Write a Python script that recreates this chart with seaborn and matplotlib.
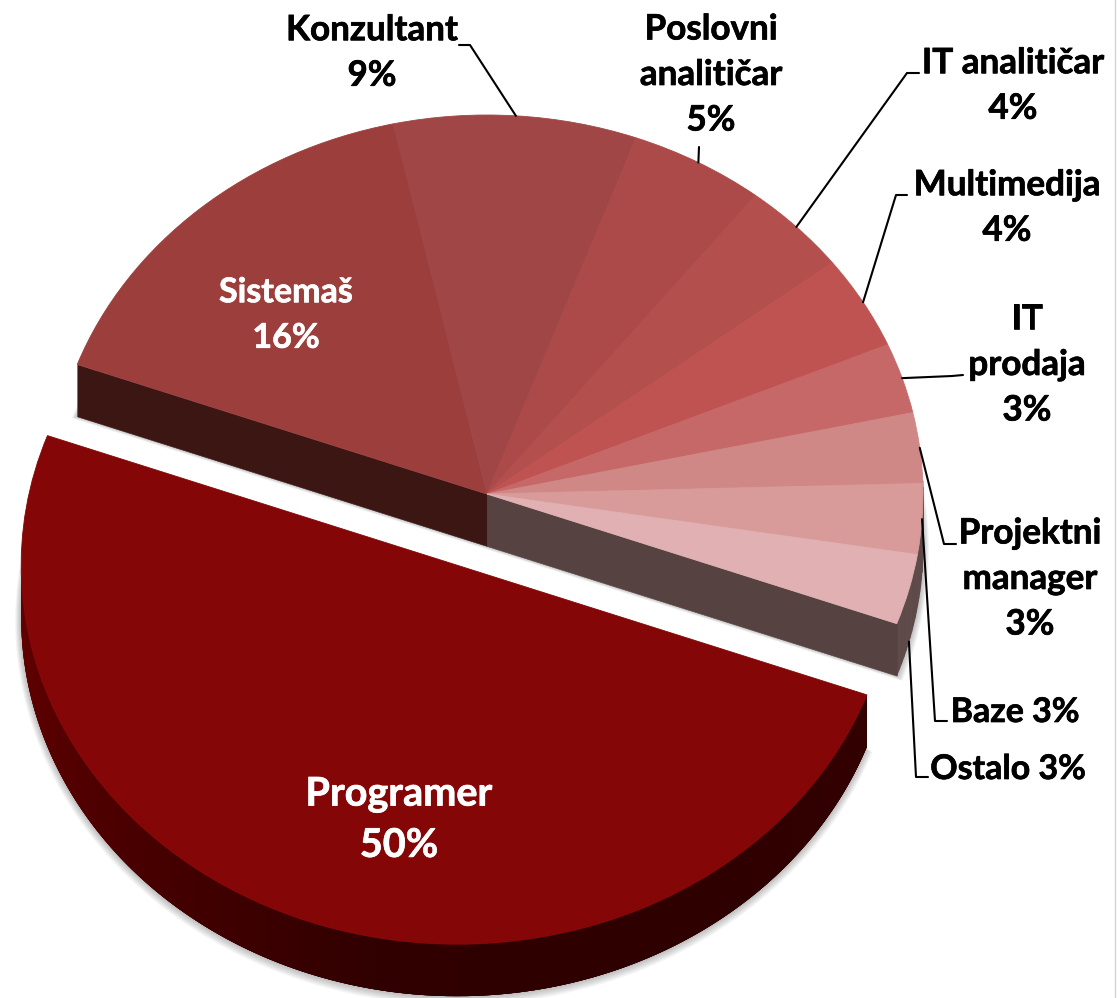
import numpy as np
import matplotlib
matplotlib.use("Agg")
import matplotlib.pyplot as plt
import matplotlib.patheffects as pe
import seaborn as sns
from matplotlib.collections import PolyCollection
from matplotlib.transforms import Affine2D

# datos del grafico
categorias = ["Programer", "Sistemaš", "Konzultant", "Poslovni\nanalitičar", "IT analitičar",
              "Multimedija", "IT\nprodaja", "Projektni\nmanager", "Baze", "Ostalo"]
valores = [50, 16, 9, 5, 4, 4, 3, 3, 3, 3]
colores = ["#840606", "#9b3e3c", "#a04646", "#ab4a49", "#b34f4d",
           "#bf5352", "#c76868", "#cf8886", "#d89b99", "#e0b0b3"]

ANCHO, ALTO = 1118, 998
CX, CY = 487, 494      # centro de la tarta, en pixeles
RX, RY = 436, 379      # radios de la elipse
PROF = 52 / RY         # grosor 3D

sns.set_theme(style="white")
plt.rcParams["font.family"] = ["Lato", "DejaVu Sans"]

fig = plt.figure(figsize=(ANCHO / 100, ALTO / 100), dpi=100, facecolor="white")
ax = fig.add_axes([0, 0, 1, 1])
explode = [0.2] + [0] * (len(valores) - 1)

# sombra difusa
for k in range(1, 7):
    ax.pie(valores, explode=explode, startangle=-20, counterclock=False, center=(0, -PROF - k * 0.6 / RY),
           radius=1 + k / RX, colors=["black"] * len(valores),
           wedgeprops={"alpha": 0.045, "linewidth": 0, "zorder": 0})

# caras superiores
wedges, _ = ax.pie(valores, explode=explode, startangle=-20, counterclock=False, colors=colores,
                   wedgeprops={"linewidth": 0.6, "zorder": 4})
for w, c in zip(wedges, colores):
    w.set_edgecolor(c)


def borde(centro, grados):
    t = np.radians(grados)
    return centro[0] + np.cos(t), centro[1] + np.sin(t)


def banda(centro, angulos, solape=0):
    # cada trozo pisa al siguiente para que no queden rayas entre ellos
    quads = []
    for a, b in zip(angulos[:-1], angulos[1:]):
        p = borde(centro, a)
        q = borde(centro, min(b + solape, angulos[-1]))
        quads.append([p, q, (q[0], q[1] - PROF), (p[0], p[1] - PROF)])
    return quads


# pared exterior del Programer, con degradado
prog = wedges[0]
angs = np.arange(prog.theta1 + 20, prog.theta2 + 0.25, 0.5)
degradado = sns.blend_palette(["#650000", "#4a0000", "#300000", "#2e0000", "#330000"], len(angs) - 1)
ax.add_collection(PolyCollection(banda(prog.center, angs, solape=1.5), facecolors=degradado,
                                 linewidths=0, zorder=2))

# pared exterior del resto
angs = np.arange(prog.theta2, 3, 1.0)
ax.add_collection(PolyCollection(banda((0, 0), angs), facecolors="#5e4a49", edgecolors="#5e4a49",
                                 linewidths=0.6, zorder=2))

# cortes interiores
izq = borde((0, 0), prog.theta1)
der = borde((0, 0), prog.theta2)
for p, color in [(izq, "#3b1613"), (der, "#564240")]:
    cara = [(0, 0), p, (p[0], p[1] - PROF), (0, -PROF)]
    ax.add_collection(PolyCollection([cara], facecolors=color, edgecolors=color, linewidths=0.4, zorder=3))

ax.set_aspect("auto")
ax.set_xlim(-CX / RX, (ANCHO - CX) / RX)
ax.set_ylim((CY - ALTO) / RY, CY / RY)
ax.axis("off")

# transformacion en pixeles de la imagen
px = Affine2D().scale(1, -1).translate(0, ALTO)

# lineas guia: desde el punto medio de cada porcion hasta el codo
guias = {
    2: [(470, 45), (459, 45)],
    3: [(699, 147)],
    4: [(907, 73), (919, 73)],
    5: [(896, 195), (907, 195)],
    6: [(952, 376), (963, 375)],
    7: [(944, 544), (956, 544)],
    8: [(935, 721), (947, 721)],
    9: [(916, 777), (928, 777)],
}
for i, codos in guias.items():
    w = wedges[i]
    mx, my = borde(w.center, 0.5 * (w.theta1 + w.theta2))
    if i == 9:
        my -= PROF
    x0, y0 = ax.transData.transform((mx, my))
    xs = [x0] + [c[0] for c in codos]
    ys = [ALTO - y0] + [c[1] for c in codos]
    ax.plot(xs, ys, color="black", lw=1.5, transform=px, zorder=6, solid_joinstyle="round", clip_on=False)

# etiquetas
etiquetas = [
    (399, 820, 0, "white", 28.5, 1.46),
    (286, 315, 1, "white", 24.5, 1.52),
    (372, 53, 2, "black", 25.2, 1.52),
    (711, 75, 3, "black", 25.2, 1.52),
    (1013, 86, 4, "black", 25.2, 1.52),
    (1007, 208, 5, "black", 25.2, 1.52),
    (1027, 365, 6, "black", 25.2, 1.52),
    (1030, 579, 7, "black", 25.2, 1.52),
]
for x, y, i, color, tam, esp in etiquetas:
    ax.text(x, y, f"{categorias[i]}\n{valores[i]}%", transform=px, ha="center", va="center", color=color,
            fontsize=tam, fontweight="bold", linespacing=esp, zorder=7,
            path_effects=[pe.withStroke(linewidth=0.5, foreground=color)])
for x, y, i in [(1015, 712, 8), (1008, 769, 9)]:
    ax.text(x, y, f"{categorias[i]} {valores[i]}%", transform=px, ha="center", va="center", color="black",
            fontsize=24.4, fontweight="bold", zorder=7,
            path_effects=[pe.withStroke(linewidth=0.5, foreground="black")])

# borde gris a la derecha de la captura
ax.plot([ANCHO - 3, ANCHO - 3], [0, ALTO], color="#d4d4d4", lw=1, transform=px, zorder=1)

fig.savefig("out.png", dpi=100)
